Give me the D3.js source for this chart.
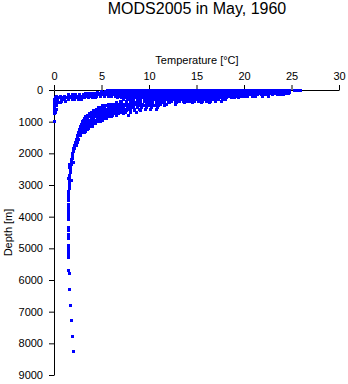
<!DOCTYPE html>
<html><head><meta charset="utf-8">
<script src="https://cdn.jsdelivr.net/npm/d3@7"></script>
<style>
body{margin:0;background:#fff}
svg{display:block}
text{font-family:"Liberation Sans",Arial,Helvetica,sans-serif;fill:#000}
</style>
</head><body>
<svg id="chart" width="348" height="384"></svg>
<script>
// ---- data ----
const titleText = "MODS2005 in May, 1960";
const xLabel = "Temperature [°C]";
const yLabel = "Depth [m]";
const xTicks = [0, 5, 10, 15, 20, 25, 30];
const yTicks = [0, 1000, 2000, 3000, 4000, 5000, 6000, 7000, 8000, 9000];

// temperatures (°C) observed at each standard level (m)
const levelDepths = [0,20,50,75,100,125,150,200,250,300,350,400,450,500,550,600,650,700,750,800,850,900,950,1000,1050,1100,1150,1200,1250,1300,1350];
const t0 = [5.6,6.1,6.4,6.8,7.3,7.6,8.0,8.5,8.8,9.2,9.7,10.0,10.4,10.9,11.2,11.6,12.1,12.4,12.8,13.3,13.6,14.0,14.5,14.8,15.2,15.7,16.0,16.4,16.9,17.2,17.6,18.1,18.4,18.8,19.3,19.6,20.0,20.5,20.8,21.2,21.7,22.0,22.4,22.9,23.2,23.6,24.1,24.4,24.8,25.3,25.6,25.9];
const t20 = [5.8,6.3,6.6,7.0,7.5,7.8,8.2,8.7,9.0,9.4,9.9,10.2,10.6,11.1,11.4,11.8,12.3,12.6,13.0,13.5,13.8,14.2,14.7,15.0,15.4,15.9,16.2,16.6,17.1,17.4,17.8,18.3,18.6,19.0,19.5,19.8,20.2,20.7,21.0,21.4,21.9,22.2,22.6,23.1,23.4,23.8,24.3,24.6];
const t50 = [5.0,5.4,5.9,6.2,6.6,7.1,7.4,7.8,8.3,8.6,9.0,9.5,9.8,10.2,10.7,11.0,11.4,11.9,12.2,12.6,13.1,13.4,13.8,14.3,14.6,15.0,15.5,15.8,16.2,16.7,17.0,17.4,17.9,18.2,18.6,19.1,19.4,19.8,20.3,20.6,21.0,21.5,21.8,22.2,22.7,23.0,23.4,23.9,24.2,24.6];
const t75 = [4.6,5.2,5.7,6.0,6.4,6.9,7.2,7.6,8.1,8.4,8.8,9.3,9.6,10.0,10.5,10.8,11.2,11.7,12.0,12.4,12.9,13.2,13.6,14.1,14.4,14.8,15.3,15.6,16.0,16.5,16.8,17.2,17.7,18.0,18.4,18.9,19.2,19.6,20.1,20.4,20.8,21.3,21.6,22.0,22.5,22.8,23.2,23.7,24.0,24.4,24.8];
const t100 = [3.6,4.0,4.5,4.8,5.2,5.7,6.0,6.4,6.9,7.2,7.6,8.1,8.4,8.8,9.3,9.6,10.0,10.5,10.8,11.2,11.7,12.0,12.4,12.9,13.2,13.6,14.1,14.4,14.8,15.3,15.6,16.0,16.5,16.8,17.2,17.7,18.0,18.4,18.9,19.2,19.6,20.1,20.4,20.8,21.3,21.6,22.0,22.5,22.8,23.2,23.7,24.0,24.4,24.7];
const t125 = [3.3,3.8,4.2,4.7,5.0,5.4,5.9,6.2,6.6,7.1,7.4,7.8,8.3,8.6,9.0,9.5,9.8,10.2,10.7,11.0,11.4,11.9,12.2,12.6,13.1,13.4,13.8,14.3,14.6,15.0,15.5,15.8,16.2,16.7,17.0,17.4,17.9,18.2,18.6,19.1,19.4,19.8,20.3,20.6,21.0,21.5,21.8,22.2,22.7,23.0,23.4,23.9,24.2,24.6];
const t150 = [1.5,1.9,2.3,2.7,3.1,3.5,3.9,4.3,4.7,5.1,5.5,5.9,6.3,6.7,7.0,7.4,7.9,8.2,8.6,9.1,9.4,9.8,10.3,10.6,11.0,11.5,11.8,12.2,12.7,13.0,13.4,13.9,14.2,14.6,15.1,15.4,15.8,16.3,16.6,17.0,17.5,17.8,18.2,18.7,19.0,19.4,19.9,20.2,20.6,21.1,21.4,21.8,22.3,22.6,23.0,23.5,23.8,24.2];
const t200 = [0.3,0.7,1.1,1.5,1.7,2.1,2.5,2.9,3.3,3.7,4.1,4.5,4.9,5.3,5.7,6.1,6.5,6.9,7.2,7.7,8.0,8.4,8.9,9.2,9.6,10.1,10.4,10.8,11.3,11.6,12.0,12.5,12.8,13.2,13.7,14.0,14.4,14.9,15.2,15.6,16.1,16.4,16.8,17.3,17.6,18.0,18.5,18.8,19.2,19.7,20.0,20.4,20.9,21.2,21.9,22.6];
const t250 = [0.2,0.5,0.9,1.3,1.7,2.1,2.4,2.8,3.2,3.6,4.0,4.4,6.7,7.1,7.5,7.9,8.2,8.6,9.1,9.4,9.8,10.3,10.6,11.0,11.5,11.8,12.2,12.7,13.0,13.4,13.9,14.2,14.6,15.1,15.4,15.8,16.3,16.6,17.0,17.5,17.8,18.2,18.7,19.0,19.4];
const t300 = [0.1,0.4,0.8,1.1,1.5,1.9,2.2,2.6,2.9,7.3,7.7,8.1,8.4,8.8,9.1,9.5,9.8,10.1,10.4,10.7,11.0,11.3,11.6,11.9,12.2,12.5,12.8,13.1,13.4,13.7,14.0,14.3,14.6,14.9,15.2,15.5,15.8,16.1,16.4,16.7,17.0,17.3,17.7,18.1];
const t350 = [0.1,0.4,0.8,1.2,7.0,7.6,8.3,8.9,9.5,10.0,10.4,10.8,11.2,11.6,12.0,12.4,12.8,13.2,13.6,14.0,14.4,14.8,15.2,15.6,16.0,16.5,17.0,17.6];
const t400 = [0.1,0.4,0.7,6.6,7.1,7.6,8.1,8.6,9.1,9.7,10.3,10.9,11.5,12.2,12.9,13.7,14.6,15.5,16.4];
const t450 = [0.1,5.7,6.0,6.35,6.7,7.0,7.35,7.7,8.0,8.35,8.7,9.0,9.35,9.7,10.0,10.4,10.8,11.2,11.8,12.8];
const t500 = [0.3,5.1,5.4,5.75,6.1,6.4,6.75,7.1,7.4,7.75,8.1,8.4,8.75,9.1,9.4,9.8,10.2,10.6,11.0,11.6];
const t550 = [0.1,4.7,5.0,5.35,5.7,6.0,6.35,6.7,7.0,7.35,7.7,8.0,8.4,8.8,9.2,9.7,10.3,10.9];
const t600 = [0.3,4.45,4.8,5.1,5.45,5.8,6.1,6.45,6.8,7.1,7.45,7.8,8.1,8.5,9.0,9.6,10.2,10.8];
const t650 = [0.1,4.2,4.5,4.85,5.2,5.5,5.85,6.2,6.5,6.85,7.2,7.6,8.0,8.5,9.1];
const t700 = [0.2,3.95,4.3,4.6,4.95,5.3,5.6,5.95,6.3,6.6,7.0,7.5,8.1,8.7];
const t750 = [0.1,3.7,4.05,4.35,4.7,5.05,5.35,5.7,6.05,6.4,6.8,7.3];
const t800 = [3.55,3.85,4.2,4.5,4.85,5.2,5.5,5.85,6.2,6.6,7.8];
const t850 = [3.35,3.7,4.0,4.35,4.7,5.0,5.35,5.7,6.1];
const t900 = [3.25,3.55,3.9,4.2,4.55,4.9,5.2,5.5];
const t950 = [3.15,3.45,3.8,4.1,4.45,4.8,5.15];
const t1000 = [0.1,3.05,3.35,3.65,4.0,4.3,4.6,4.9];
const t1050 = [2.95,3.25,3.55,3.85,4.15,4.4];
const t1100 = [2.9,3.2,3.5,3.8,4.1];
const t1150 = [2.8,3.1,3.4,3.7,4.0];
const t1200 = [2.75,3.05,3.35,3.65];
const t1250 = [2.7,3.0,3.3,3.55];
const t1300 = [2.7,3.0,3.3];
const t1350 = [2.6,2.9,3.2];
const levelTemps = [t0,t20,t50,t75,t100,t125,t150,t200,t250,t300,t350,t400,t450,t500,t550,t600,t650,t700,t750,t800,t850,t900,t950,t1000,t1050,t1100,t1150,t1200,t1250,t1300,t1350];

// deep observations [depth m, temperature °C]
const deepObs = [
 [1400,2.6],[1450,2.5],[1450,2.75],[1500,2.45],[1550,2.4],[1550,2.55],[1600,2.35],[1650,2.3],[1650,2.45],
 [1700,2.25],[1750,2.2],[1750,2.35],[1800,2.15],[1850,2.1],[1850,2.2],[1900,2.05],[1950,2.0],[2000,1.98],
 [2050,1.95],[2100,1.92],[2150,1.9],[2200,1.87],[2250,1.85],[2300,1.82],[2300,2.02],[2350,1.8],[2350,1.6],
 [2400,1.78],[2450,1.76],[2450,1.6],[2500,1.74],[2550,1.72],[2600,1.7],[2700,1.67],[2800,1.65],[2800,1.5],
 [2850,1.8],[2900,1.63],[2950,1.62],[3000,1.6],[3100,1.58],[3200,1.56],[3250,1.55],[3300,1.54],[3400,1.53],
 [3500,1.52],[3600,1.51],[3700,1.5],[3750,1.5],[3800,1.5],[3900,1.49],[4000,1.49],[4100,1.49],[4350,1.48],
 [4450,1.48],[4550,1.48],[4650,1.48],[4700,1.49],[4900,1.5],[5000,1.52],[5100,1.52],[5200,1.53],[5300,1.55],
 [5700,1.55],[5800,1.58],[6300,1.63],[6800,1.76],[7280,1.83],[7780,1.9],[8270,2.0]
];

// ---- chart ----
const svg = d3.select("#chart");
const x = d3.scaleLinear().domain([0, 30]).range([54, 339]);
const y = d3.scaleLinear().domain([0, 9000]).range([90, 375]);

const xAxis = svg.append("g").attr("transform", `translate(0,${y(0)})`)
  .call(d3.axisTop(x).tickValues(xTicks).tickFormat(d3.format("d")).tickSize(5).tickSizeOuter(0).tickPadding(5));
const yAxis = svg.append("g").attr("transform", `translate(${x(0)},0)`)
  .call(d3.axisLeft(y).tickValues(yTicks).tickFormat(d3.format("d")).tickSize(5).tickSizeOuter(0).tickPadding(6));
[xAxis, yAxis].forEach(g => {
  g.selectAll("text").attr("font-size", 11).attr("font-family", '"Liberation Sans",Arial,sans-serif').attr("fill", "#000");
  g.selectAll("line,path").attr("stroke", "#000");
});

const points = [];
levelDepths.forEach((d, i) => levelTemps[i].forEach(t => points.push({t, d})));
deepObs.forEach(([d, t]) => points.push({t, d}));

svg.append("g").selectAll("rect").data(points).join("rect")
  .attr("x", p => Math.round(x(p.t) - 1.5))
  .attr("y", p => Math.round(y(p.d) - 1.5))
  .attr("width", 3).attr("height", 3)
  .attr("fill", "#0000ff");

svg.append("text").attr("x", 197).attr("y", 13.5).attr("text-anchor", "middle")
  .attr("font-size", 16).text(titleText);
svg.append("text").attr("x", 197).attr("y", 64).attr("text-anchor", "middle")
  .attr("font-size", 11).text(xLabel);
svg.append("text").attr("transform", `translate(11.5,${(y(0) + y(9000)) / 2}) rotate(-90)`)
  .attr("text-anchor", "middle").attr("font-size", 11).text(yLabel);
</script>
</body></html>
